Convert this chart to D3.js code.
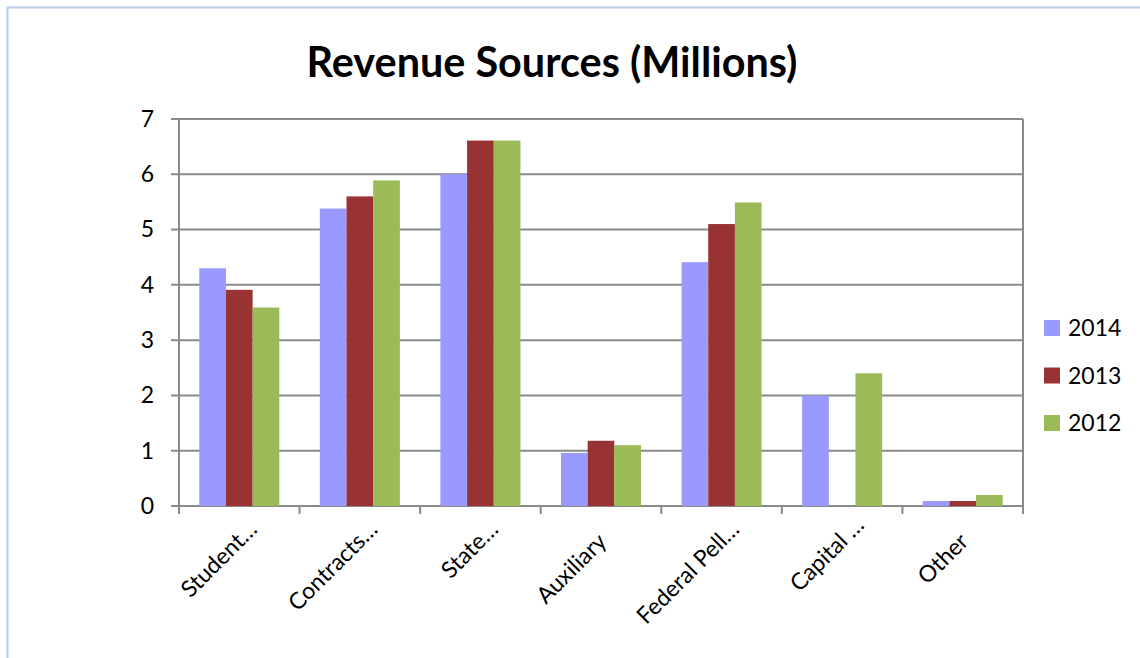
<!DOCTYPE html>
<html>
<head>
<meta charset="utf-8">
<script src="https://cdn.jsdelivr.net/npm/d3@7"></script>
<style>
  body { margin: 0; background: #fff; }
  svg { display: block; }
  text { font-family: Lato, "Open Sans", sans-serif; fill: #000; }
</style>
</head>
<body>
<svg id="chart" width="1140" height="658"></svg>
<script>
// Chart data
const categories = ["Student…", "Contracts…", "State…", "Auxiliary", "Federal Pell…", "Capital …", "Other"];
const years = ["2014", "2013", "2012"];
const values2014 = [4.3, 5.38, 6.0, 0.96, 4.41, 2.0, 0.09];
const values2013 = [3.91, 5.6, 6.61, 1.18, 5.1, 0, 0.09];
const values2012 = [3.59, 5.89, 6.61, 1.1, 5.49, 2.4, 0.2];
const yTicks = [0, 1, 2, 3, 4, 5, 6, 7];
const colors = ["#9999ff", "#993333", "#9bbb59"];

const seriesValues = [values2014, values2013, values2012];
const rows = categories.map((c, i) => ({
    category: c,
    values: years.map((y, j) => ({ year: y, value: seriesValues[j][i] }))
}));

const svg = d3.select("#chart");
const plot = { left: 179, right: 1023, top: 119, bottom: 506 };
const gridColor = "#8a8a8a";
const labelSize = "23px";

// Outer chart frame
svg.append("rect")
    .attr("x", 7.5)
    .attr("y", 7.5)
    .attr("width", 1200)
    .attr("height", 700)
    .attr("fill", "none")
    .attr("stroke", "#b9cde5")
    .attr("stroke-width", 2);

// Title
const title = svg.append("text")
    .attr("x", 552)
    .attr("y", 77)
    .attr("text-anchor", "middle")
    .style("font-weight", "bold")
    .style("font-size", "40px")
    .text("Revenue Sources (Millions)");
// fit title to the width seen in the picture
const tw = title.node().getComputedTextLength();
title.style("font-size", (40 * 491 / tw) + "px");

// Scales
const x0 = d3.scaleBand()
    .domain(categories)
    .range([plot.left, plot.right])
    .padding(0);

const x1 = d3.scaleBand()
    .domain(years)
    .range([0, x0.bandwidth()])
    .paddingInner(0)
    .paddingOuter(0.76);

const y = d3.scaleLinear()
    .domain([0, 7])
    .range([plot.bottom, plot.top]);

const color = d3.scaleOrdinal().domain(years).range(colors);

// Gridlines
svg.append("g")
    .selectAll("line")
    .data(yTicks)
    .enter().append("line")
    .attr("x1", plot.left - 8)
    .attr("x2", plot.right)
    .attr("y1", d => y(d))
    .attr("y2", d => y(d))
    .attr("stroke", gridColor)
    .attr("stroke-width", 2);

// Right border of plot area
svg.append("line")
    .attr("x1", plot.right).attr("x2", plot.right)
    .attr("y1", plot.top).attr("y2", plot.bottom + 8)
    .attr("stroke", gridColor)
    .attr("stroke-width", 2);

// Bars
const groups = svg.append("g")
    .selectAll("g")
    .data(rows)
    .enter().append("g")
    .attr("transform", d => `translate(${x0(d.category)},0)`);

groups.selectAll("rect")
    .data(d => d.values)
    .enter().append("rect")
    .attr("x", d => x1(d.year))
    .attr("width", x1.bandwidth())
    .attr("y", d => y(d.value))
    .attr("height", d => plot.bottom - y(d.value))
    .attr("fill", d => color(d.year));

// Y axis
const yAxis = svg.append("g")
    .attr("transform", `translate(${plot.left},0)`)
    .call(d3.axisLeft(y).tickValues(yTicks).tickSize(0).tickPadding(25).tickFormat(d3.format("d")));
yAxis.select(".domain").remove();
yAxis.selectAll("text").style("font-size", labelSize).style("font-family", null);

svg.append("line")
    .attr("x1", plot.left).attr("x2", plot.left)
    .attr("y1", plot.top - 1).attr("y2", plot.bottom + 8)
    .attr("stroke", gridColor)
    .attr("stroke-width", 2);

// X axis line and ticks at category boundaries
const xAxis = svg.append("g")
    .attr("transform", `translate(0,${plot.bottom})`)
    .call(d3.axisBottom(x0).tickSize(0).tickFormat(""));
xAxis.select(".domain").remove();

const boundaries = categories.map(c => x0(c)).concat([plot.right]);
svg.append("g")
    .selectAll("line")
    .data(boundaries)
    .enter().append("line")
    .attr("x1", d => d).attr("x2", d => d)
    .attr("y1", plot.bottom).attr("y2", plot.bottom + 8)
    .attr("stroke", gridColor)
    .attr("stroke-width", 2);

// Rotated category labels; a trailing ellipsis hangs past the anchor
const labels = svg.append("g")
    .selectAll("g")
    .data(categories)
    .enter().append("g")
    .attr("transform", d => `translate(${x0(d) + x0.bandwidth() / 2 + 7},${plot.bottom + 37}) rotate(-45)`);

labels.append("text")
    .attr("text-anchor", "end")
    .style("font-size", labelSize)
    .text(d => d.replace(/\s*…$/, ""));

labels.filter(d => d.endsWith("…"))
    .append("text")
    .attr("text-anchor", "start")
    .style("font-size", labelSize)
    .style("white-space", "pre")
    .text(d => d.match(/\s*…$/)[0]);

// Legend
const legend = svg.append("g")
    .selectAll("g")
    .data(years)
    .enter().append("g")
    .attr("transform", (d, i) => `translate(1044,${320 + i * 47.5})`);

legend.append("rect")
    .attr("width", 16)
    .attr("height", 16)
    .attr("fill", d => color(d));

legend.append("text")
    .attr("x", 24)
    .attr("y", 16)
    .style("font-size", labelSize)
    .text(d => d);
</script>
</body>
</html>
